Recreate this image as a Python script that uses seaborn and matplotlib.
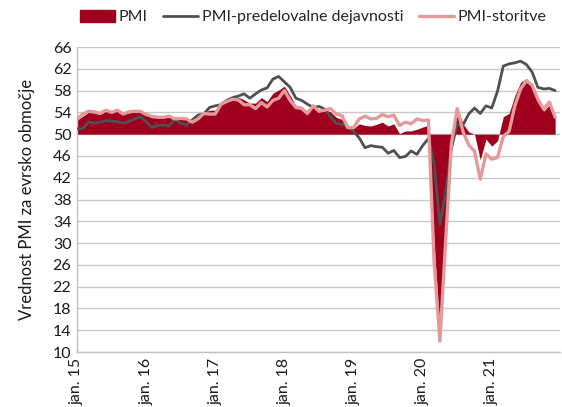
import matplotlib
matplotlib.use("Agg")
import matplotlib.pyplot as plt
import seaborn as sns
import pandas as pd
import numpy as np
from matplotlib.patches import Patch
from matplotlib.lines import Line2D

# Monthly data Jan 2015 - Dec 2021
pmi = [52.6, 53.3, 54.0, 53.9, 53.6, 54.2, 53.9, 54.3, 53.6, 53.9, 54.2, 54.3,
       53.6, 53.0, 53.1, 53.0, 53.1, 53.1, 53.2, 52.9, 52.6, 53.3, 53.9, 54.4,
       54.4, 56.0, 56.4, 56.8, 56.8, 56.3, 55.7, 55.7, 56.7, 56.0, 57.5, 58.1,
       58.8, 57.1, 55.2, 55.1, 54.1, 54.9, 54.3, 54.5, 54.1, 53.1, 52.7, 51.1,
       51.0, 51.9, 51.6, 51.5, 51.8, 52.2, 51.5, 51.9, 50.1, 50.6, 50.6, 50.9,
       51.3, 51.6, 29.7, 13.6, 31.9, 48.5, 54.9, 51.9, 50.4, 50.0, 45.3, 49.1,
       47.8, 48.8, 53.2, 53.8, 57.1, 59.5, 60.2, 59.0, 56.2, 54.2, 55.4, 53.3]
manufacturing = [51.0, 51.0, 52.2, 52.0, 52.2, 52.5, 52.4, 52.3, 52.0, 52.3, 52.8, 53.2,
                 52.3, 51.2, 51.6, 51.7, 51.5, 52.8, 52.0, 51.7, 52.6, 53.5, 53.7, 54.9,
                 55.2, 55.4, 56.2, 56.7, 57.0, 57.4, 56.6, 57.4, 58.1, 58.5, 60.1, 60.6,
                 59.6, 58.6, 56.6, 56.2, 55.5, 54.9, 55.1, 54.6, 53.2, 52.0, 51.8, 51.4,
                 50.5, 49.3, 47.5, 47.9, 47.7, 47.6, 46.5, 47.0, 45.7, 45.9, 46.9, 46.3,
                 47.9, 49.2, 44.5, 33.4, 39.4, 47.4, 51.8, 51.7, 53.7, 54.8, 53.8, 55.2,
                 54.8, 57.9, 62.5, 62.9, 63.1, 63.4, 62.8, 61.4, 58.6, 58.3, 58.4, 58.0]
services = [52.7, 53.7, 54.2, 54.1, 53.8, 54.4, 54.0, 54.4, 53.7, 54.1, 54.2, 54.2,
            53.6, 53.3, 53.1, 53.1, 53.3, 52.8, 52.9, 52.8, 52.2, 52.8, 53.8, 53.7,
            53.7, 55.5, 56.0, 56.4, 56.3, 55.4, 55.4, 54.7, 55.8, 55.0, 56.2, 56.6,
            58.0, 56.2, 54.9, 54.7, 53.8, 55.2, 54.2, 54.4, 54.7, 53.7, 53.4, 51.2,
            51.2, 52.8, 53.3, 52.8, 52.9, 53.6, 53.2, 53.5, 51.6, 52.2, 51.9, 52.8,
            52.5, 52.6, 26.4, 12.0, 30.5, 48.3, 54.7, 50.5, 48.0, 46.9, 41.7, 46.4,
            45.4, 45.7, 49.6, 50.5, 55.2, 58.3, 59.8, 59.0, 56.4, 54.6, 55.9, 53.1]
tick_labels = ["jan. 15", "jan. 16", "jan. 17", "jan. 18", "jan. 19", "jan. 20", "jan. 21"]
y_ticks = list(range(10, 67, 4))

df = pd.DataFrame({"m": np.arange(len(pmi)), "PMI": pmi,
                   "PMI-predelovalne dejavnosti": manufacturing,
                   "PMI-storitve": services})

sns.set_theme(style="white")
plt.rcParams["font.family"] = ["Lato", "DejaVu Sans"]

RED = "#9E001E"
GRAY = "#505050"
PINK = "#E59A9A"
TXT = "#1a1a1a"
FS = 11.5

fig = plt.figure(figsize=(5.62, 4.07), dpi=100)
ax = fig.add_axes([0.137, 0.135, 0.859, 0.7495])

ax.fill_between(df["m"], 50, df["PMI"], color=RED, linewidth=0, zorder=2)
sns.lineplot(data=df, x="m", y="PMI-predelovalne dejavnosti", ax=ax, color=GRAY,
             linewidth=2.0, zorder=3)
sns.lineplot(data=df, x="m", y="PMI-storitve", ax=ax, color=PINK,
             linewidth=2.4, zorder=4)

ax.set_xlim(0, 83.8)
ax.set_ylim(10, 66)
ax.set_yticks(y_ticks)
ax.set_yticklabels([str(v) for v in y_ticks], fontsize=FS, color=TXT)
ax.set_xticks(np.arange(0, 84, 12))
ax.set_xticklabels(tick_labels, rotation=90, fontsize=FS, color=TXT)
ax.tick_params(axis="both", length=0, pad=4)
ax.set_xlabel("")
ax.set_ylabel("Vrednost PMI za evrsko območje", fontsize=12, color=TXT, labelpad=13)

ax.grid(axis="y", color="#C8C8C8", linewidth=1.0, zorder=0)
ax.set_axisbelow(True)
for s in ["top", "right"]:
    ax.spines[s].set_visible(False)
for s in ["left", "bottom"]:
    ax.spines[s].set_color("#C0C0C0")
    ax.spines[s].set_linewidth(1.0)

handles = [Patch(facecolor=RED, edgecolor=RED),
           Line2D([0], [0], color=GRAY, linewidth=2.0),
           Line2D([0], [0], color=PINK, linewidth=2.4)]
labels = ["PMI", "PMI-predelovalne dejavnosti", "PMI-storitve"]
fig.legend(handles, labels, loc="center", bbox_to_anchor=(0.557, 0.958), ncol=3,
           frameon=False, fontsize=FS, handlelength=2.2, handleheight=0.8,
           columnspacing=1.0, handletextpad=0.2)

fig.savefig("out.png", dpi=100)
